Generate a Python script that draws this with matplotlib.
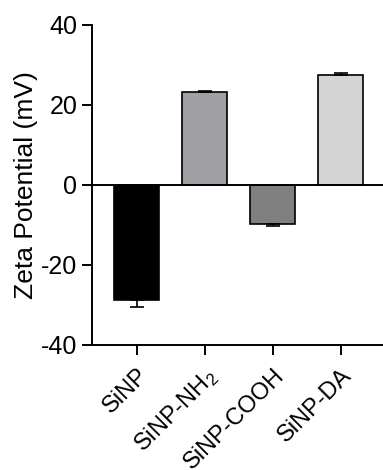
import matplotlib.pyplot as plt
import numpy as np

plt.rcParams['font.family'] = ['Liberation Sans', 'DejaVu Sans']
plt.rcParams['mathtext.fontset'] = 'custom'
plt.rcParams['mathtext.rm'] = 'Liberation Sans'
plt.rcParams['mathtext.it'] = 'Liberation Sans'
plt.rcParams['axes.unicode_minus'] = False

# data
labels = ['SiNP', 'SiNP-NH$_2$', 'SiNP-COOH', 'SiNP-DA']
zeta = [-28.8, 23.3, -9.8, 27.5]
err = [1.6, 0.3, 0.4, 0.4]
colors = ['#000000', '#a0a0a4', '#808080', '#d4d4d4']

fig = plt.figure(figsize=(3.83, 4.70), dpi=100)
ax = fig.add_axes([0.240, 0.266, 0.76, 0.681])

x = np.arange(len(labels))
ax.bar(x, zeta, width=0.66, color=colors, edgecolor='black', linewidth=1.2, zorder=2)

# one-sided error bars (away from zero)
lower = [e if v < 0 else 0 for v, e in zip(zeta, err)]
upper = [e if v > 0 else 0 for v, e in zip(zeta, err)]
ax.errorbar(x, zeta, yerr=[lower, upper], fmt='none', ecolor='black',
            elinewidth=1.2, capsize=5, capthick=1.2, zorder=3)

ax.axhline(0, color='black', linewidth=1.4, zorder=4)

ax.set_xlim(-0.66, 3.62)
ax.set_ylim(-40, 40)
ax.set_yticks([-40, -20, 0, 20, 40])
ax.set_xticks(x)
ax.set_xticklabels(labels, rotation=45, ha='right', rotation_mode='anchor', fontsize=17)
ax.set_ylabel('Zeta Potential (mV)', fontsize=19, labelpad=2)

ax.tick_params(axis='y', labelsize=18)
ax.tick_params(axis='both', length=7, width=1.4, color='black')
ax.tick_params(axis='x', pad=7)
for s in ['top', 'right']:
    ax.spines[s].set_visible(False)
for s in ['left', 'bottom']:
    ax.spines[s].set_linewidth(1.4)

fig.savefig('out.png', dpi=100)
